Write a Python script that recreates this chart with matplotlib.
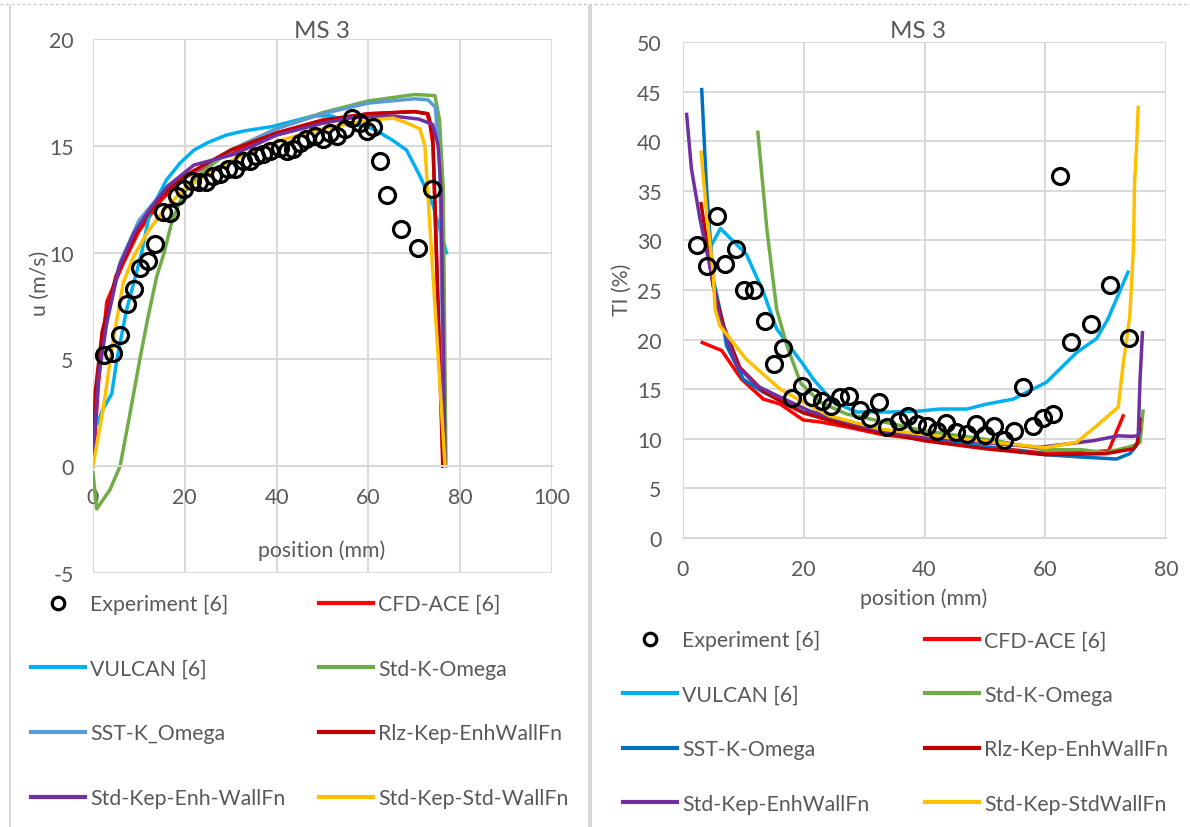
import matplotlib.pyplot as plt
from matplotlib.lines import Line2D

plt.rcParams['font.family'] = ['Lato', 'DejaVu Sans']
plt.rcParams['axes.unicode_minus'] = False

# ---- left chart: velocity u (m/s) vs position (mm) ----
u_exp_x = [2.5, 4.4, 5.9, 7.3, 8.9, 10.3, 12.0, 13.6, 15.2, 16.8, 18.2, 19.8, 21.5, 23.2, 24.6,
           26.2, 27.7, 29.5, 31.0, 32.7, 34.2, 35.6, 37.1, 38.6, 40.7, 42.2, 43.6, 45.1, 46.5,
           48.4, 50.0, 51.6, 53.2, 54.9, 56.4, 58.2, 59.6, 61.1, 62.5, 64.1, 67.2, 70.7, 73.8]
u_exp_y = [5.2, 5.3, 6.15, 7.6, 8.3, 9.3, 9.6, 10.4, 11.9, 11.85, 12.65, 13.0, 13.35, 13.3, 13.3,
           13.6, 13.7, 13.9, 13.9, 14.3, 14.3, 14.5, 14.6, 14.75, 14.9, 14.75, 14.85, 15.15, 15.3,
           15.45, 15.3, 15.6, 15.45, 15.8, 16.3, 16.05, 15.7, 15.9, 14.3, 12.7, 11.1, 10.2, 13.0]

u_cfd_x = [0, 1.2, 3, 4.8, 6.6, 10, 15, 20, 30, 40, 50, 60, 70, 72.8, 73.4, 74.1, 76.3]
u_cfd_y = [0, 3.9, 7.7, 8.6, 9.5, 11.0, 12.5, 13.5, 14.7, 15.6, 16.2, 16.5, 16.6, 16.5, 16.0, 15.0, 0]

u_vulcan_x = [1.0, 2, 4.1, 5.2, 7.3, 10.6, 12.4, 16, 19, 22, 25, 29, 33, 39, 48, 52, 56,
              61, 65, 68.3, 71.2, 74.1, 77]
u_vulcan_y = [2.0, 2.6, 3.4, 5.0, 7.3, 10.0, 11.9, 13.4, 14.2, 14.8, 15.15, 15.5, 15.7, 15.9,
              16.4, 16.4, 16.05, 15.8, 15.3, 14.8, 13.6, 12.2, 10.0]

u_skw_x = [0, 0.8, 3.7, 5.9, 8, 10.2, 12, 13.9, 15.5, 17.3, 19.8, 23.5, 30, 40, 50, 60, 70,
           74.5, 75.5, 76.3, 76.9]
u_skw_y = [-0.3, -2.0, -1.1, 0.0, 2.4, 5.0, 7.0, 8.9, 10.0, 11.55, 12.8, 13.7, 14.8, 15.8,
           16.55, 17.1, 17.4, 17.35, 16.2, 13.0, 0]

u_sst_x = [0, 0.5, 1.5, 3, 6, 10, 15, 20, 30.7, 40, 50, 60, 70, 73, 74.6, 75.6, 76.5]
u_sst_y = [0, 3.0, 5.2, 7.2, 9.6, 11.5, 12.8, 13.55, 14.85, 15.8, 16.5, 17.0, 17.2, 17.15, 16.8, 14.0, 0]

u_rlz_x = [0, 0.5, 2, 5, 10, 15, 20, 30, 40, 50, 60, 70, 73, 74, 76.2]
u_rlz_y = [0, 3.5, 6.3, 8.9, 11.2, 12.7, 13.6, 14.8, 15.6, 16.2, 16.5, 16.6, 16.5, 15.6, 0]

u_enh_x = [0, 0.2, 1.2, 3, 5.7, 8.9, 12.6, 16.2, 22, 30.7, 40, 50, 56, 65, 71, 74, 75.2, 75.8, 76.7]
u_enh_y = [0, 1.0, 4.2, 6.7, 9.35, 10.9, 12.1, 13.1, 14.1, 14.6, 15.5, 16.05, 16.3, 16.4, 16.25,
           16.0, 15.0, 13.0, 0]

u_std_x = [0, 2.3, 4.4, 6.6, 8.8, 12, 15.5, 20, 30, 40, 50, 55, 60, 65.4, 68, 71.2, 72.3, 76.7]
u_std_y = [0, 2.8, 5.9, 8.6, 9.8, 11.0, 12.0, 13.0, 14.3, 15.2, 15.8, 16.0, 16.2, 16.3, 16.1,
           15.8, 15.0, 0]

# ---- right chart: turbulence intensity TI (%) vs position (mm) ----
ti_exp_x = [2.3, 3.9, 5.6, 7.0, 8.8, 10.1, 11.8, 13.5, 15.0, 16.5, 18.0, 19.75, 21.3, 22.95,
            24.45, 26.0, 27.5, 29.3, 31.0, 32.5, 33.8, 35.8, 37.2, 38.7, 40.4, 42.0, 43.5, 45.2,
            47.0, 48.5, 50.0, 51.5, 53.1, 54.8, 56.3, 58.0, 59.55, 61.3, 62.5, 64.2, 67.5, 70.7, 73.8]
ti_exp_y = [29.5, 27.4, 32.5, 27.6, 29.1, 25.0, 25.0, 21.85, 17.5, 19.2, 14.1, 15.35, 14.2, 13.85,
            13.3, 14.2, 14.3, 12.9, 12.1, 13.7, 11.15, 11.8, 12.3, 11.5, 11.3, 10.8, 11.6, 10.7,
            10.5, 11.5, 10.4, 11.25, 9.9, 10.8, 15.25, 11.25, 12.05, 12.55, 36.5, 19.8, 21.6, 25.5, 20.2]

ti_cfd_x = [3.2, 6.4, 9.7, 13.3, 16.1, 19.9, 22.7, 27.1, 33.2, 39.2, 50, 60, 66, 70.5, 72.9]
ti_cfd_y = [19.7, 18.9, 16.0, 14.0, 13.5, 11.9, 11.7, 11.2, 10.4, 10.0, 9.2, 8.55, 8.6, 8.8, 12.3]

ti_vulcan_x = [4.5, 6.2, 10.5, 13.3, 15.5, 19.9, 21.6, 24.9, 28.8, 34.3, 39.2, 42.5, 47, 50.3,
               54.7, 60.2, 65.2, 68.5, 70.4, 73.7]
ti_vulcan_y = [29.3, 31.2, 28.6, 24.8, 21.1, 17.5, 16.0, 13.7, 12.7, 12.7, 12.8, 13.0, 13.0, 13.5,
               14.0, 15.7, 18.7, 20.1, 22.1, 26.8]

ti_skw_x = [12.4, 13.9, 15.5, 17.2, 19.5, 22.7, 27.1, 31, 40, 51.9, 60, 66, 70, 74, 75.4, 75.7, 76.2]
ti_skw_y = [40.9, 31.1, 23.1, 19.4, 15.6, 13.7, 12.5, 12.0, 10.8, 9.8, 8.9, 8.9, 8.6, 9.2, 9.5,
            9.65, 12.8]

ti_sst_x = [3.1, 3.9, 5.0, 6.7, 7.2, 10, 13.3, 19.9, 30, 40, 50, 60, 65, 71.8, 74, 75.1, 75.7]
ti_sst_y = [45.2, 35.2, 26.1, 21.4, 19.4, 16.0, 14.7, 12.7, 11.2, 10.2, 9.2, 8.4, 8.2, 7.96, 8.5,
            9.3, 11.0]

ti_rlz_x = [3.0, 5.0, 6.7, 9.4, 13.3, 17, 20, 28, 40, 50, 60, 70, 74.6, 75.3, 75.7]
ti_rlz_y = [33.7, 25.4, 21.4, 17.2, 14.8, 13.5, 12.6, 11.2, 9.8, 9.0, 8.4, 8.5, 9.0, 9.6, 12.0]

ti_enh_x = [0.6, 1.4, 2.8, 4.2, 6.1, 8.9, 12.2, 16.1, 21.0, 32.6, 40, 49.2, 59.1, 67.9, 72.1,
            74.3, 75.4, 75.7, 76.1]
ti_enh_y = [42.7, 37.2, 32.2, 28.1, 22.1, 17.4, 15.35, 14.2, 12.8, 10.8, 10.2, 9.65, 9.15, 9.8,
            10.3, 10.25, 10.3, 16.0, 20.7]

ti_std_x = [3.0, 3.9, 5.0, 5.3, 6.1, 10.5, 16.1, 19.9, 24.3, 32.6, 43.7, 60, 65.2, 68.5, 72.1,
            72.8, 74.0, 74.6, 74.8, 75.1, 75.4]
ti_std_y = [38.9, 32.8, 26.8, 23.1, 21.4, 18.0, 15.0, 13.7, 12.3, 11.0, 10.15, 9.1, 9.65, 11.3,
            13.2, 17.0, 22.4, 29.1, 35.9, 39.2, 43.4]

TXT = '#595959'
GRID = '#d9d9d9'
W, H = 1190, 828
FS = 15.3

fig = plt.figure(figsize=(W / 100, H / 100), dpi=100)


def px_axes(l, t, r, b):
    return fig.add_axes([l / W, 1 - b / H, (r - l) / W, (b - t) / H])


def ftext(x, y, s, **kw):
    fig.text(x / W, 1 - y / H, s, ha='center', va='center', color=TXT, **kw)


def style(ax, xlim, ylim, step_x, step_y, ypad):
    ax.set_xlim(*xlim)
    ax.set_ylim(*ylim)
    ax.set_xticks(range(xlim[0], xlim[1] + 1, step_x))
    ax.set_yticks(range(ylim[0], ylim[1] + 1, step_y))
    ax.grid(True, color=GRID, lw=1.4)
    ax.set_axisbelow(True)
    for s in ['top', 'right', 'left']:
        ax.spines[s].set_visible(False)
    ax.spines['bottom'].set_position(('data', 0))
    ax.spines['bottom'].set_color(GRID)
    ax.spines['bottom'].set_linewidth(1.4)
    ax.tick_params(length=0, labelcolor=TXT, labelsize=FS)
    ax.tick_params(axis='x', pad=15)
    ax.tick_params(axis='y', pad=ypad)


def draw(ax, series, exp_x, exp_y):
    for x, y, c, lab in series:
        ax.plot(x, y, color=c, lw=2.5, label=lab, solid_joinstyle='round')
    ax.plot(exp_x, exp_y, 'o', ms=11.5, mfc='none', mec='black', mew=2.3, zorder=5)


exp_handle = Line2D([], [], marker='o', ls='none', ms=9, mfc='none', mec='black', mew=2.3)

ax1 = px_axes(93, 40, 552, 574)
style(ax1, (0, 100), (-5, 20), 20, 5, 14)
left_series = [
    (u_cfd_x, u_cfd_y, '#FF0000', 'CFD-ACE [6]'),
    (u_vulcan_x, u_vulcan_y, '#00B0F0', 'VULCAN [6]'),
    (u_skw_x, u_skw_y, '#70AD47', 'Std-K-Omega'),
    (u_sst_x, u_sst_y, '#5B9BD5', 'SST-K_Omega'),
    (u_rlz_x, u_rlz_y, '#C00000', 'Rlz-Kep-EnhWallFn'),
    (u_enh_x, u_enh_y, '#7030A0', 'Std-Kep-Enh-WallFn'),
    (u_std_x, u_std_y, '#FFC000', 'Std-Kep-Std-WallFn'),
]
draw(ax1, left_series, u_exp_x, u_exp_y)

ax2 = px_axes(683, 43, 1166, 539)
style(ax2, (0, 80), (0, 50), 20, 5, 15.5)
right_series = [
    (ti_cfd_x, ti_cfd_y, '#FF0000', 'CFD-ACE [6]'),
    (ti_vulcan_x, ti_vulcan_y, '#00B0F0', 'VULCAN [6]'),
    (ti_skw_x, ti_skw_y, '#70AD47', 'Std-K-Omega'),
    (ti_sst_x, ti_sst_y, '#0070C0', 'SST-K-Omega'),
    (ti_rlz_x, ti_rlz_y, '#C00000', 'Rlz-Kep-EnhWallFn'),
    (ti_enh_x, ti_enh_y, '#7030A0', 'Std-Kep-EnhWallFn'),
    (ti_std_x, ti_std_y, '#FFC000', 'Std-Kep-StdWallFn'),
]
draw(ax2, right_series, ti_exp_x, ti_exp_y)

# titles and axis labels
ftext(322, 32, 'MS 3', fontsize=17.5)
ftext(918, 32, 'MS 3', fontsize=17.5)
ftext(322, 551, 'position (mm)', fontsize=FS)
ftext(924, 599, 'position (mm)', fontsize=FS)
ftext(40, 283, 'u (m/s)', fontsize=FS, rotation=90)
ftext(622, 290, 'TI (%)', fontsize=FS, rotation=90)


def legend_col(entries, x, y, spacing):
    hs = [h for h, _ in entries]
    ls = [l for _, l in entries]
    fig.legend(hs, ls, loc='center left', bbox_to_anchor=(x / W, 1 - y / H), frameon=False,
               borderpad=0, borderaxespad=0, handlelength=2.55, handletextpad=0.22,
               labelspacing=spacing, fontsize=FS, labelcolor=TXT)


def line_handle(c):
    return Line2D([], [], color=c, lw=3)


for series, xs, yc, sp in [(left_series, (31, 319), 702, 2.1), (right_series, (623, 925), 723, 1.62)]:
    col1 = [(exp_handle, 'Experiment [6]')] + [(line_handle(s[2]), s[3]) for s in (series[1], series[3], series[5])]
    col2 = [(line_handle(s[2]), s[3]) for s in (series[0], series[2], series[4], series[6])]
    legend_col(col1, xs[0], yc, sp)
    legend_col(col2, xs[1], yc, sp)

# panel borders
for xs, ys in [([10, 10], [7, H]), ([588.5, 588.5], [7, H]), ([591, 591], [7, H])]:
    fig.add_artist(Line2D([x / W for x in xs], [1 - y / H for y in ys], transform=fig.transFigure,
                          color='#d0d0d0', lw=1.2))
fig.add_artist(Line2D([0, 1], [1 - 5 / H, 1 - 5 / H], transform=fig.transFigure,
                      color='#c8c8c8', lw=1.0, ls=(0, (2, 2))))

fig.savefig('out.png', dpi=100)
